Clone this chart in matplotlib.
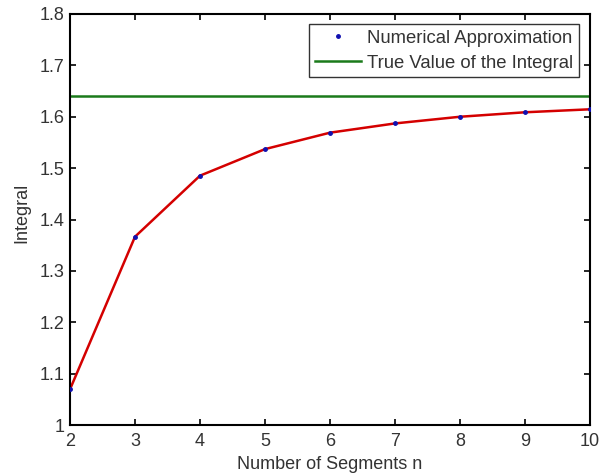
import matplotlib
matplotlib.use("Agg")
import matplotlib.pyplot as plt

n_segments = [2, 3, 4, 5, 6, 7, 8, 9, 10]
approx = [1.0695, 1.3665, 1.4853, 1.537, 1.569, 1.587, 1.600, 1.6087, 1.6145]
true_value = 1.6395
xticks = [2, 3, 4, 5, 6, 7, 8, 9, 10]
yticks = [1.0, 1.1, 1.2, 1.3, 1.4, 1.5, 1.6, 1.7, 1.8]

plt.rcParams['font.family'] = ['Liberation Sans', 'DejaVu Sans']
fig = plt.figure(figsize=(6.02, 4.75), dpi=100)
ax = fig.add_axes([70/602, 1 - 425/475, 520/602, 411/475])

ax.plot(n_segments, approx, color='#d40000', lw=1.8, zorder=2)
ax.plot(n_segments, approx, linestyle='none', marker='.', color='#1010b0',
        markersize=5, label='Numerical Approximation', zorder=3)
ax.axhline(true_value, color='#1a7a1a', lw=1.8, label='True Value of the Integral', zorder=2)

ax.set_xlim(2, 10)
ax.set_ylim(1, 1.8)
ax.set_xticks(xticks)
ax.set_yticks(yticks)
ax.set_xticklabels([str(v) for v in xticks])
ax.set_yticklabels(['1'] + ['%.1f' % v for v in yticks[1:]])
ax.tick_params(direction='in', length=4, width=1.2, top=True, right=True,
               labelsize=13, labelcolor='#333333')
ax.tick_params(axis='x', pad=6)
ax.tick_params(axis='y', pad=4)
for s in ax.spines.values():
    s.set_linewidth(1.5)
ax.set_xlabel('Number of Segments n', fontsize=13, color='#333333', labelpad=4)
ax.set_ylabel('Integral', fontsize=13, color='#333333')
ax.yaxis.set_label_coords(-0.077, 0.516)

leg = ax.legend(loc='upper right', bbox_to_anchor=(579/602, 1 - 24/475),
                bbox_transform=fig.transFigure, fontsize=13.3, frameon=True,
                fancybox=False, edgecolor='black', borderpad=0.3,
                handlelength=2.5, handletextpad=0.35, labelspacing=0.45,
                borderaxespad=0)
leg.get_frame().set_linewidth(1.0)
for t in leg.get_texts():
    t.set_color('#333333')

fig.savefig('out.png', dpi=100)
